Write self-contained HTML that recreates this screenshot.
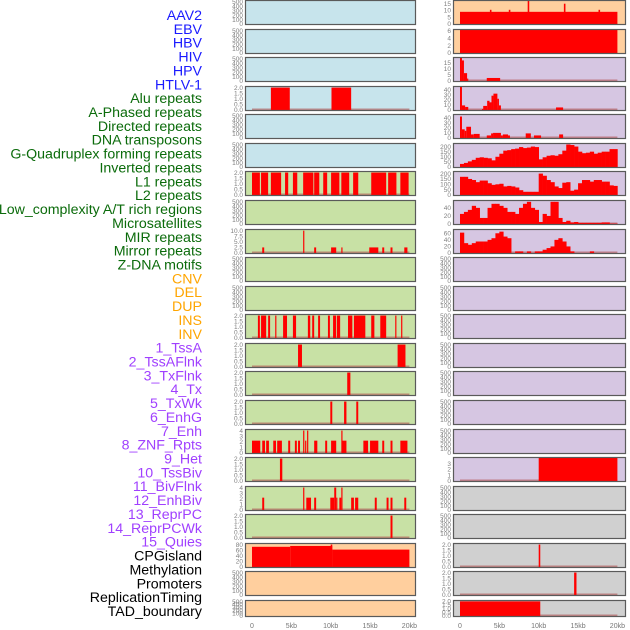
<!DOCTYPE html>
<html><head><meta charset="utf-8"><style>
html,body{margin:0;padding:0;background:#fff;}
svg{display:block;font-family:"Liberation Sans",sans-serif;}
</style></head><body>
<svg id="chart" width="630" height="630" viewBox="0 0 630 630" xmlns="http://www.w3.org/2000/svg"></svg>
<script>
// ---- labels ----
const labelNames = ["AAV2","EBV","HBV","HIV","HPV","HTLV-1","Alu repeats","A-Phased repeats","Directed repeats","DNA transposons","G-Quadruplex forming repeats","Inverted repeats","L1 repeats","L2 repeats","Low_complexity A/T rich regions","Microsatellites","MIR repeats","Mirror repeats","Z-DNA motifs","CNV","DEL","DUP","INS","INV","1_TssA","2_TssAFlnk","3_TxFlnk","4_Tx","5_TxWk","6_EnhG","7_Enh","8_ZNF_Rpts","9_Het","10_TssBiv","11_BivFlnk","12_EnhBiv","13_ReprPC","14_ReprPCWk","15_Quies","CPGisland","Methylation","Promoters","ReplicationTiming","TAD_boundary"];
const labelGroups = [6,13,5,15,5];
const groupColors = ["#1a1aff","#0b6b0b","#ffa500","#a040ff","#000000"];

// ---- tick label arrays ----
const ticks500 = [0,100,200,300,400,500];
const ticks2 = [0,0.5,1,1.5,2];
const ticks4 = [0,1,2,3,4];
const ticks10 = [0,2.5,5,7.5,10];
const ticks80 = [0,20,40,60,80];
const ticks15 = [0,5,10,15];
const ticks6 = [0,2,4,6];
const ticks40 = [0,10,20,30,40];
const ticks40b = [0,20,40];
const ticks200 = [0,50,100,150,200];
const ticks60 = [0,20,40,60];
const ticks3 = [0,1,2,3];
const xTickKb = [0,5,10,15,20];
const xTickLabels = ["0","5kb","10kb","15kb","20kb"];

// ---- left column data: segments [startKb, endKb, value] ----
const aluSegs = [[2.4,4.8,2],[10.1,12.6,2]];
const l1Segs = [[0,1.0,2],[1.15,2.05,2],[2.4,3.7,2],[4.2,4.6,2],[5.2,5.75,2],[6.5,7.8,2],[7.9,8.55,2],[9.05,9.55,2],[10.05,11.1,2],[11.35,12.35,2],[12.85,13.5,2],[15.15,17.05,2],[17.3,18.35,2],[18.85,19.9,2]];
const mirSegs = [[1.3,1.55,2.5],[6.5,6.65,10],[7.9,8.15,2.5],[10.05,10.7,2.5],[11.35,11.5,2.5],[14.9,16.05,2.5],[16.55,16.8,2.5],[17.6,17.85,2.5],[19.35,19.75,2.5]];
const insSegs = [[0.75,1.0,2],[1.15,1.8,2],[2.05,2.3,2],[2.95,3.1,2],[3.95,4.45,2],[5.2,5.6,2],[7.1,7.4,2],[7.65,7.9,2],[8.4,8.65,2],[9.65,9.9,2],[10.3,10.7,2],[10.8,11.2,2],[12.2,12.75,2],[12.95,14.4,2],[15.15,15.55,2],[16.3,17.05,2],[18.2,18.35,2],[18.95,19.1,2]];
const tssaSegs = [[5.85,6.35,2],[18.5,19.5,2]];
const txflnkSegs = [[12.1,12.5,2]];
const txwkSegs = [[9.95,10.2,2],[11.7,12.0,2],[13.25,13.5,2]];
const enhSegs = [[0,1.05,2.2],[1.3,1.65,2.2],[1.8,2.15,2.2],[2.7,3.05,2.2],[3.2,3.8,2.2],[4.6,4.85,2.2],[5.45,5.7,2.2],[5.85,6.1,2.2],[6.5,6.65,4],[6.75,6.9,2.2],[7.0,7.15,4],[7.9,8.3,2.2],[9.3,9.55,2.2],[10.05,10.7,2.2],[11.35,11.5,4],[11.5,12.0,2.2],[14.15,14.75,2.2],[15.0,16.05,2.2],[16.55,16.8,2.2],[17.6,17.85,2.2],[18.85,19.75,2.2]];
const hetSegs = [[3.55,3.85,2]];
const enhbivSegs = [[1.3,1.55,2.2],[6.5,6.65,4],[6.9,7.5,2.2],[7.9,8.15,2.2],[9.95,10.45,2.2],[10.45,10.7,4],[10.7,10.85,2.2],[11.1,11.35,2.2],[11.35,11.5,4],[12.6,12.95,2.2],[13.1,13.5,2.2],[15.6,15.85,2.2],[17.1,17.35,2.2],[17.6,17.85,2.2],[19.35,19.6,2.2]];
const reprpcwkSegs = [[17.6,17.85,2]];
const cpgSegs = [[0,4.85,72],[4.85,10.2,75],[10.0,10.2,80],[10.2,20,62]];

// ---- right column data ----
const aav2Segs = [[0,20,9],[3.8,4.0,10.5],[6.2,6.4,10.5],[8.6,8.8,17],[13.2,13.4,15],[17.6,17.8,10.5]];
const ebvSegs = [[0,20,6.2]];
const hivSegs = [[0,0.25,19],[0.25,0.5,17],[0.5,0.9,6.5],[0.9,1.05,2],[3.4,5.1,2.5]];
const hpvSegs = [[0,0.25,45],[0.25,0.65,9],[0.65,1.05,6],[2.8,2.95,2],[2.95,3.45,8],[3.45,3.75,18],[3.75,4.0,15],[4.0,4.25,28],[4.25,4.75,32],[4.75,4.95,22],[4.95,5.2,9],[12.2,13.1,5]];
const mixSegs = [[0,0.25,42],[0.25,0.6,17],[0.6,0.8,14],[0.8,1.4,22],[1.4,1.75,7],[1.75,2.5,8],[3.4,3.95,5],[3.95,4.2,9],[4.2,5.2,10],[5.2,5.45,5],[5.45,6.1,7],[6.1,6.35,5],[8.35,9.0,9],[9.4,10.3,5],[12.6,13.1,7]];
const gquadBins = [30,40,55,70,90,95,90,85,65,100,130,160,165,175,180,195,185,190,200,195,75,95,110,115,110,125,160,220,215,200,150,135,140,150,130,140,150,150,175,175];
const invBins = [170,170,150,140,120,135,135,110,95,100,105,80,85,80,70,45,30,30,30,30,200,180,140,120,80,65,115,120,40,50,110,140,140,125,140,140,125,125,90,85];
const l2Bins = [25,30,35,45,40,15,15,40,50,50,45,40,30,30,25,40,50,55,40,35,5,25,20,55,55,15,5,8,4,5,3,3,3,3,3,3,4,4,1,1];
const microBins = [62,30,25,30,35,35,35,40,45,60,65,50,45,0,5,5,0,5,0,5,5,10,15,20,40,45,35,20,5,0,0,0,0,5,0,0,0,0,0,0];
const tssbivSegs = [[10,20,4]];
const promSegs = [[10.0,10.2,2]];
const repSegs = [[14.5,14.8,2]];
const tadSegs = [[0,10.2,2]];

const BLUE="#c7e4ec", GREEN="#c8e1a5", ORANGE="#ffcf9e", PURPLE="#d6c6e2", GRAY="#d0d0d0";
const leftPanels = [
 [BLUE,520,ticks500,null],[BLUE,520,ticks500,null],[BLUE,520,ticks500,null],[BLUE,2.05,ticks2,aluSegs],
 [BLUE,520,ticks500,null],[BLUE,520,ticks500,null],[GREEN,2.05,ticks2,l1Segs],[GREEN,520,ticks500,null],
 [GREEN,10.3,ticks10,mirSegs],[GREEN,520,ticks500,null],[GREEN,520,ticks500,null],[GREEN,2.05,ticks2,insSegs],
 [GREEN,2.05,ticks2,tssaSegs],[GREEN,2.05,ticks2,txflnkSegs],[GREEN,2.05,ticks2,txwkSegs],[GREEN,4.1,ticks4,enhSegs],
 [GREEN,2.05,ticks2,hetSegs],[GREEN,4.1,ticks4,enhbivSegs],[GREEN,2.05,ticks2,reprpcwkSegs],[ORANGE,82,ticks80,cpgSegs],
 [ORANGE,520,ticks500,null],[ORANGE,520,ticks500,null]];
const rightPanels = [
 [ORANGE,17,ticks15,aav2Segs],[ORANGE,6.2,ticks6,ebvSegs],[PURPLE,19,ticks15,hivSegs],[PURPLE,45,ticks40,hpvSegs],
 [PURPLE,45,ticks40,mixSegs],[PURPLE,225,ticks200,gquadBins],[PURPLE,215,ticks200,invBins],[PURPLE,57,ticks40b,l2Bins],
 [PURPLE,70,ticks60,microBins],[PURPLE,520,ticks500,null],[PURPLE,520,ticks500,null],[PURPLE,520,ticks500,null],
 [PURPLE,520,ticks500,null],[PURPLE,520,ticks500,null],[PURPLE,520,ticks500,null],[PURPLE,520,ticks500,null],
 [PURPLE,4,ticks3,tssbivSegs],[GRAY,520,ticks500,null],[GRAY,520,ticks500,null],[GRAY,2.05,ticks2,promSegs],
 [GRAY,2.05,ticks2,repSegs],[GRAY,2.05,ticks2,tadSegs]];

const NS="http://www.w3.org/2000/svg";
const svg=document.getElementById('chart');
function mk(tag,attrs,parent){const e=document.createElementNS(NS,tag);for(const k in attrs)e.setAttribute(k,attrs[k]);(parent||svg).appendChild(e);return e;}

let li=0;
labelGroups.forEach((n,g)=>{for(let j=0;j<n;j++){
  const t=mk('text',{x:202,y:15+li*13.86+5,'text-anchor':'end','font-size':14.2,fill:groupColors[g]});
  t.textContent=labelNames[li];
  
  
  li++;}});

const colX=[245,453], colW=[171,173], zeroX=[252,460], kbPx=7.87;
function rowTop(i){return Math.round(i*28.57);}
function rowH(i){return i===21?17:25;}
function fmt(v,t){return (t===ticks2||t===ticks10)?v.toFixed(1):String(v);}

function drawPanel(col,i,p){
  const [bg,ymax,ticks,data]=p;
  const x0=colX[col], w=colW[col], top=rowTop(i), h=rowH(i);
  const g=mk('g',{});
  
  
  mk('rect',{x:x0,y:top,width:w,height:h,fill:bg},g);
  const yb=top+h-1, yt=top+1;
  const yS=v=>yb-(v/ymax)*(yb-yt);
  const xS=kb=>zeroX[col]+kb*kbPx;
  if(data){
    mk('rect',{x:xS(0),y:yb-1.5,width:xS(20)-xS(0),height:1.5,fill:'#b05050',opacity:0.6},g);
    if(typeof data[0]==='number'){
      data.forEach((v,k)=>{if(v<=0)return;
        const r=mk('rect',{x:xS(k*0.5),y:yS(v),width:xS((k+1)*0.5)-xS(k*0.5)+0.3,height:yb-yS(v),fill:'#ff0000'},g);
        
        });
    } else {
      data.forEach(s=>{
        const r=mk('rect',{x:xS(s[0]),y:yS(s[2]),width:Math.max(1,xS(s[1])-xS(s[0])),height:yb-yS(s[2]),fill:'#ff0000'},g);
        
        });
    }
  }
  mk('rect',{x:x0+0.5,y:top+0.5,width:w-1,height:h-1,fill:'none',stroke:'#5a5a5a','stroke-width':1.2},g);
  ticks.forEach(v=>{
    const t=mk('text',{x:x0-2,y:yS(v)+2.2,'text-anchor':'end','font-size':6.5,fill:'#808080'},g);
    t.textContent=fmt(v,ticks);
    
    
  });
}
leftPanels.forEach((p,i)=>drawPanel(0,i,p));
rightPanels.forEach((p,i)=>drawPanel(1,i,p));

[0,1].forEach(col=>{xTickKb.forEach((kb,k)=>{
  const t=mk('text',{x:zeroX[col]+kb*kbPx,y:628,'text-anchor':'middle','font-size':7,fill:'#777'});
  t.textContent=xTickLabels[k];
  
  
});});
</script>
</body></html>
